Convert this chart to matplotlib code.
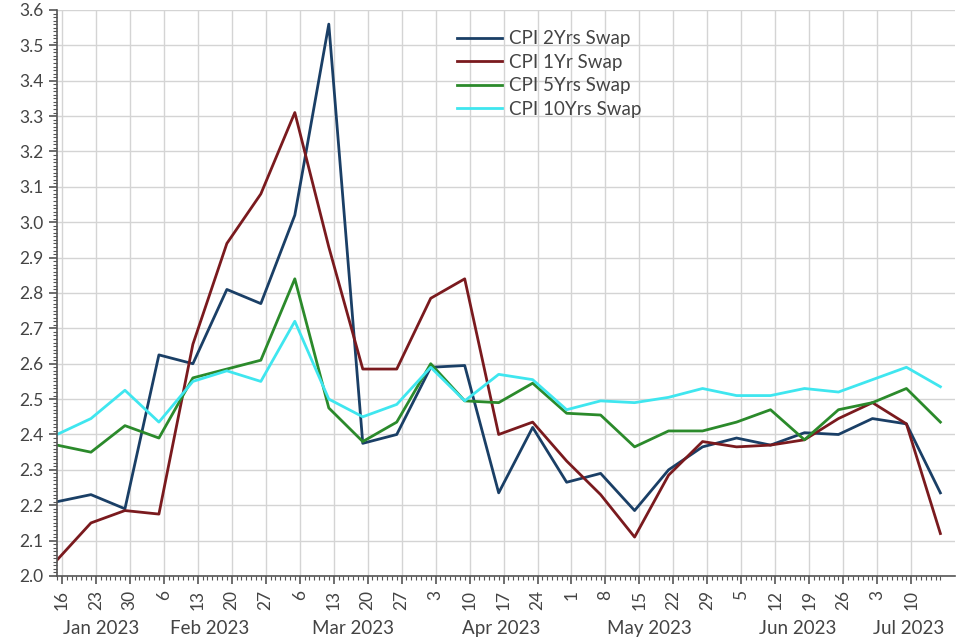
import matplotlib
matplotlib.use('Agg')
import matplotlib.pyplot as plt
import matplotlib.dates as mdates
from matplotlib.ticker import MultipleLocator, FormatStrFormatter, FixedLocator
import numpy as np
import pandas as pd

plt.rcParams['font.family'] = ['Lato', 'DejaVu Sans']

# weekly observations (Sundays)
dates = pd.date_range('2023-01-15', periods=27, freq='7D')

cpi_2y = [2.21, 2.23, 2.19, 2.625, 2.60, 2.81, 2.77, 3.02, 3.56, 2.375,
          2.40, 2.59, 2.595, 2.235, 2.42, 2.265, 2.29, 2.185, 2.30, 2.365,
          2.39, 2.37, 2.405, 2.40, 2.445, 2.43, 2.235]
cpi_1y = [2.045, 2.15, 2.185, 2.175, 2.655, 2.94, 3.08, 3.31, 2.93, 2.585,
          2.585, 2.785, 2.84, 2.40, 2.435, 2.325, 2.23, 2.11, 2.285, 2.38,
          2.365, 2.37, 2.385, 2.445, 2.49, 2.43, 2.12]
cpi_5y = [2.37, 2.35, 2.425, 2.39, 2.56, 2.585, 2.61, 2.84, 2.475, 2.38,
          2.435, 2.60, 2.495, 2.49, 2.545, 2.46, 2.455, 2.365, 2.41, 2.41,
          2.435, 2.47, 2.385, 2.47, 2.49, 2.53, 2.435]
cpi_10y = [2.40, 2.445, 2.525, 2.435, 2.55, 2.58, 2.55, 2.72, 2.50, 2.45,
           2.485, 2.59, 2.495, 2.57, 2.555, 2.47, 2.495, 2.49, 2.505, 2.53,
           2.51, 2.51, 2.53, 2.52, 2.555, 2.59, 2.535]

series = [
    ('CPI 2Yrs Swap', cpi_2y, '#1a3f66'),
    ('CPI 1Yr Swap', cpi_1y, '#7a1a1e'),
    ('CPI 5Yrs Swap', cpi_5y, '#2b8a2b'),
    ('CPI 10Yrs Swap', cpi_10y, '#3fe6ef'),
]

month_labels = ['Jan 2023', 'Feb 2023', 'Mar 2023', 'Apr 2023',
                'May 2023', 'Jun 2023', 'Jul 2023']

text_col = '#444444'
axis_col = '#555555'

fig = plt.figure(figsize=(9.69, 6.39), dpi=100)
ax = fig.add_axes([0.0588, 0.0986, 0.9267, 0.8858])

for name, vals, col in series:
    ax.plot(dates, vals, color=col, lw=2.0, label=name)

x0 = pd.Timestamp('2023-01-15')
x1 = pd.Timestamp('2023-07-19')
last = dates[-1]
ax.set_xlim(x0, x1)
ax.set_ylim(2.0, 3.6)

ax.yaxis.set_major_locator(MultipleLocator(0.1))
ax.yaxis.set_minor_locator(MultipleLocator(0.01))
ax.yaxis.set_major_formatter(FormatStrFormatter('%.1f'))

# weekly ticks on Mondays, only up to the last observation
major_days = pd.date_range('2023-01-16', last, freq='7D')
minor_days = pd.date_range(x0, last, freq='D')
ax.xaxis.set_major_locator(FixedLocator(mdates.date2num(major_days)))
ax.xaxis.set_minor_locator(FixedLocator(mdates.date2num(minor_days)))
ax.xaxis.set_major_formatter(mdates.DateFormatter('%-d'))

ax.grid(True, which='major', color='#d4d4d4', lw=1.0)
ax.set_axisbelow(True)

for s in ['top', 'right']:
    ax.spines[s].set_visible(False)
for s in ['left', 'bottom']:
    ax.spines[s].set_color(axis_col)
    ax.spines[s].set_linewidth(1.2)

ax.tick_params(axis='both', which='major', colors=axis_col, labelcolor=text_col,
               labelsize=12.5, length=6, width=1.2)
ax.tick_params(axis='both', which='minor', colors=axis_col, length=3, width=0.8)
ax.tick_params(axis='x', which='major', labelrotation=90, pad=4)

# month labels centred on the visible part of each month
for i, lab in enumerate(month_labels):
    start = max(pd.Timestamp(2023, i + 1, 1), x0)
    end = min(pd.Timestamp(2023, i + 1, 1) + pd.offsets.MonthEnd(0), last)
    mid = start + (end - start) / 2 + pd.Timedelta(days=1)
    ax.text(mdates.date2num(mid), -0.093, lab, transform=ax.get_xaxis_transform(),
            ha='center', va='center', fontsize=13.5, color=text_col)

leg = ax.legend(loc='upper left', bbox_to_anchor=(0.437, 0.977), frameon=False,
                fontsize=13.5, handlelength=2.4, handletextpad=0.4,
                labelspacing=0.34, borderaxespad=0)
for t in leg.get_texts():
    t.set_color(text_col)

fig.savefig('out.png', dpi=100)
